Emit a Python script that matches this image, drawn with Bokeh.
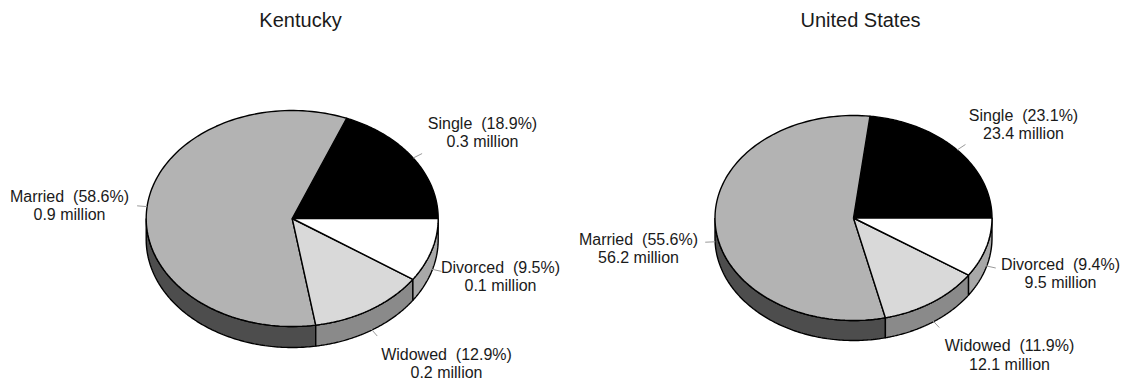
import numpy as np
from bokeh.plotting import figure
from bokeh.models import Range1d
from bokeh.embed import file_html
from bokeh.resources import INLINE
from bokeh.core.properties import value

# ---- data ----
regions = ["Kentucky", "United States"]
categories = ["Single", "Married", "Widowed", "Divorced"]
ky_pct = [18.9, 58.6, 12.9, 9.5]
us_pct = [23.1, 55.6, 11.9, 9.4]
ky_millions = ["0.3", "0.9", "0.2", "0.1"]
us_millions = ["23.4", "56.2", "12.1", "9.5"]

# ---- style / layout ----
top_colors = ["#000000", "#b3b3b3", "#d9d9d9", "#ffffff"]
side_colors = ["#222222", "#4d4d4d", "#8a8a8a", "#a8a8a8"]
FONT = "Liberation Sans"

pies = [
    dict(cx=291.7, cy=218.0, rx=146.0, ry=108.0, depth=21.0, title_x=300, title_y=19,
         labels=[(482, 131.5), (69, 204.5), (446, 362.5), (500, 275.5)]),
    dict(cx=853.0, cy=217.5, rx=138.5, ry=102.5, depth=20.0, title_x=860, title_y=19,
         labels=[(1023, 123.5), (638, 247.5), (1009, 354.0), (1060, 272.5)]),
]

W, H = 1121, 383
p = figure(width=W, height=H, x_range=Range1d(0, W), y_range=Range1d(H, 0),
           output_backend="svg", toolbar_location=None, min_border=0)
p.axis.visible = False
p.grid.visible = False
p.outline_line_color = None
p.background_fill_color = "white"
p.border_fill_color = "white"


def arc(geo, t1, t2, n=120):
    t = np.radians(np.linspace(t1, t2, n))
    return geo["cx"] + geo["rx"] * np.cos(t), geo["cy"] - geo["ry"] * np.sin(t)


for geo, pcts, mills, region in zip(pies, [ky_pct, us_pct], [ky_millions, us_millions], regions):
    total = sum(pcts)
    bounds = np.concatenate([[0], np.cumsum(pcts)]) / total * 360.0
    side_xs, side_ys, side_c = [], [], []
    top_xs, top_ys, top_c = [], [], []
    for i in range(len(pcts)):
        a1, a2 = bounds[i], bounds[i + 1]
        # visible side wall (front half: 180..360 deg)
        s1, s2 = max(a1, 180.0), min(a2, 360.0)
        if s2 > s1:
            x, y = arc(geo, s1, s2)
            side_xs.append(list(np.concatenate([x, x[::-1]])))
            side_ys.append(list(np.concatenate([y, (y + geo["depth"])[::-1]])))
            side_c.append(side_colors[i])
        x, y = arc(geo, a1, a2)
        top_xs.append([geo["cx"]] + list(x))
        top_ys.append([geo["cy"]] + list(y))
        top_c.append(top_colors[i])
    p.patches(side_xs, side_ys, fill_color=side_c, line_color="black", line_width=1.4)
    p.patches(top_xs, top_ys, fill_color=top_c, line_color="black", line_width=1.4)

    # leader lines and labels
    for i, cat in enumerate(categories):
        mid = np.radians((bounds[i] + bounds[i + 1]) / 2)
        sx = geo["cx"] + geo["rx"] * np.cos(mid)
        sy = geo["cy"] - geo["ry"] * np.sin(mid)
        if np.sin(mid) < 0:
            sy += geo["depth"] * 0.9
        d = np.array([geo["rx"] * np.cos(mid), -geo["ry"] * np.sin(mid)])
        d = d / np.linalg.norm(d) * 10
        p.line([sx, sx + d[0]], [sy, sy + d[1]], line_color="#9a9a9a", line_width=1)
        lx, ly = geo["labels"][i]
        p.text([lx], [ly - 9], text=[f"{cat}\u00a0 ({pcts[i]}%)"], text_align="center",
               text_baseline="middle", text_font=value(FONT), text_font_size="16px",
               text_color="#1a1a1a")
        p.text([lx], [ly + 9.5], text=[f"{mills[i]} million"], text_align="center",
               text_baseline="middle", text_font=value(FONT), text_font_size="16px",
               text_color="#1a1a1a")

    p.text([geo["title_x"]], [geo["title_y"]], text=[region], text_align="center",
           text_baseline="middle", text_font=value(FONT), text_font_size="20px",
           text_color="#1a1a1a")

open("out.html", "w").write(file_html(p, INLINE))
